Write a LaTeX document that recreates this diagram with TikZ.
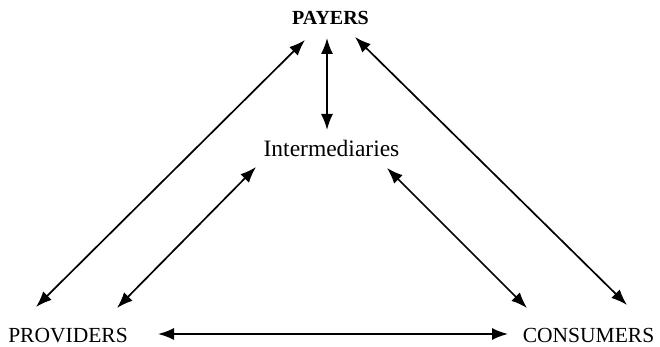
\documentclass[tikz,border=0pt]{standalone}
\usepackage{fontspec}
\setmainfont{Liberation Serif}
\usetikzlibrary{arrows.meta,calc}
\tikzset{
  party/.style={inner sep=0pt, anchor=base, font=\fontsize{21.5}{24}\selectfont},
  payer/.style={inner sep=0pt, anchor=base, font=\fontsize{20}{23}\selectfont\bfseries},
  middle/.style={inner sep=0pt, anchor=base, font=\fontsize{23.5}{26}\selectfont},
  link/.style={line width=1.7pt, {Latex[length=16pt,width=12pt]}-{Latex[length=16pt,width=12pt]}}
}
\begin{document}
\begin{tikzpicture}[x=1pt,y=1pt]
  \useasboundingbox (0,0) rectangle (660,347);
  % the four parties
  \node[payer]  (pay)  at (330.5,322) {PAYERS};
  \node[middle] (int)  at (331.5,190) {Intermediaries};
  \node[party]  (prov) at (68,4)      {PROVIDERS};
  \node[party]  (cons) at (588.5,4)   {CONSUMERS};
  % two-way relations
  \draw[link] ($(pay.base)+(-25.5,-15)$) -- ($(prov.base)+(-32,36)$);
  \draw[link] ($(pay.base)+(-3.5,-13)$)  -- ($(int.base)+(-4.5,27)$);
  \draw[link] ($(pay.base)+(24.5,-12)$)  -- ($(cons.base)+(38.5,38)$);
  \draw[link] ($(int.base)+(-75.5,-10)$) -- ($(prov.base)+(49,35)$);
  \draw[link] ($(int.base)+(55.5,-11)$)  -- ($(cons.base)+(-61.5,35)$);
  \draw[link] ($(prov.base)+(90,9)$)     -- ($(cons.base)+(-80.5,9)$);
\end{tikzpicture}
\end{document}
